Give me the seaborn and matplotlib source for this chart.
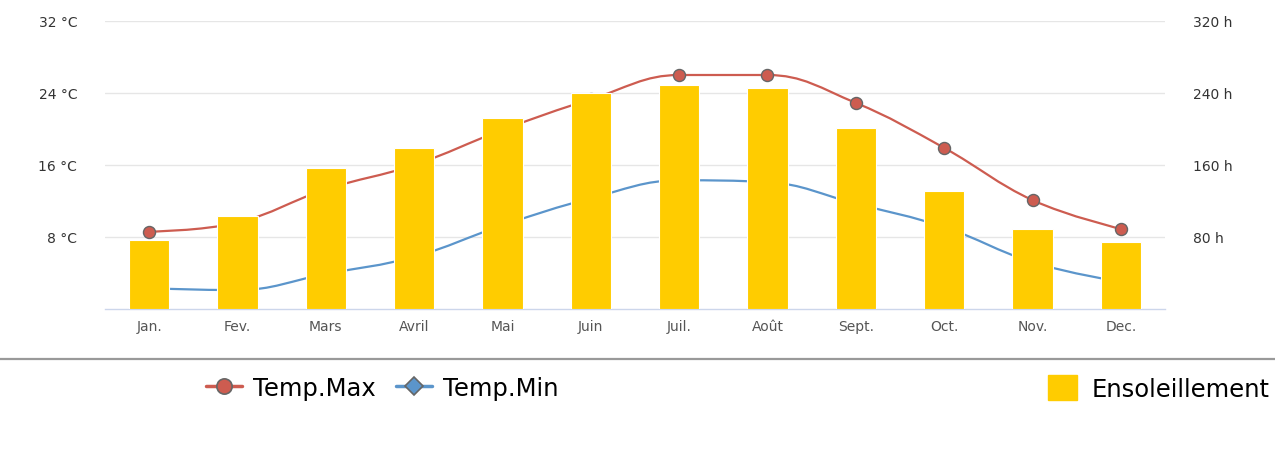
import numpy as np
import pandas as pd
import matplotlib
matplotlib.use("Agg")
import matplotlib.pyplot as plt
from matplotlib.path import Path
from matplotlib.patches import PathPatch, Patch
from matplotlib.lines import Line2D
import seaborn as sns

# Monthly climate values
months = ["Jan.", "Fev.", "Mars", "Avril", "Mai", "Juin",
          "Juil.", "Août", "Sept.", "Oct.", "Nov.", "Dec."]
temp_max = [8.6, 9.6, 13.3, 16.0, 19.9, 23.3, 26.0, 26.0, 22.9, 17.9, 12.1, 8.9]
temp_min = [2.3, 2.1, 3.9, 5.8, 9.3, 12.3, 14.3, 14.1, 11.7, 9.1, 5.2, 3.0]
sunshine = [77, 103, 157, 179, 212, 240, 249, 246, 201, 131, 89, 74]

temp_ticks = [8, 16, 24, 32]
hour_ticks = [80, 160, 240, 320]

RED = "#cd5c50"
BLUE = "#5b95cb"
YELLOW = "#ffcc00"
GRID = "#e6e6e6"
AXIS = "#ccd6eb"
LABEL = "#555555"


def spline_path(xs, ys, smoothing=1.5):
    """Cubic Bezier path through the points (Highcharts-style spline)."""
    n = len(xs)
    denom = smoothing + 1
    left = [None] * n
    right = [None] * n
    for i in range(1, n - 1):
        px, py = xs[i], ys[i]
        lx, ly = xs[i - 1], ys[i - 1]
        nx, ny = xs[i + 1], ys[i + 1]
        lcx = (smoothing * px + lx) / denom
        lcy = (smoothing * py + ly) / denom
        rcx = (smoothing * px + nx) / denom
        rcy = (smoothing * py + ny) / denom
        if rcx != lcx:
            corr = ((rcy - lcy) * (rcx - px)) / (rcx - lcx) + py - rcy
            lcy += corr
            rcy += corr
        if lcy > ly and lcy > py:
            lcy = max(ly, py)
            rcy = 2 * py - lcy
        elif lcy < ly and lcy < py:
            lcy = min(ly, py)
            rcy = 2 * py - lcy
        if rcy > ny and rcy > py:
            rcy = max(ny, py)
            lcy = 2 * py - rcy
        elif rcy < ny and rcy < py:
            rcy = min(ny, py)
            lcy = 2 * py - rcy
        left[i] = (lcx, lcy)
        right[i] = (rcx, rcy)
    verts = [(xs[0], ys[0])]
    codes = [Path.MOVETO]
    for i in range(1, n):
        c1 = right[i - 1] or (xs[i - 1], ys[i - 1])
        c2 = left[i] or (xs[i], ys[i])
        verts += [c1, c2, (xs[i], ys[i])]
        codes += [Path.CURVE4] * 3
    return Path(verts, codes)


sns.set_style("white")
plt.rcParams["font.family"] = ["DejaVu Sans"]

df = pd.DataFrame({"mois": months, "tmax": temp_max,
                   "tmin": temp_min, "soleil": sunshine})
xpos = np.arange(len(months))

fig = plt.figure(figsize=(12.75, 4.56), dpi=100)
ax = fig.add_axes([105 / 1275, 1 - 310 / 456, 1060 / 1275, 288 / 456])
ax2 = ax.twinx()

# Temperature curves (left axis, drawn beneath the bars)
ax.add_patch(PathPatch(spline_path(xpos, temp_min), fill=False,
                       edgecolor=BLUE, lw=1.6, zorder=2))
ax.add_patch(PathPatch(spline_path(xpos, temp_max), fill=False,
                       edgecolor=RED, lw=1.6, zorder=2))
sns.scatterplot(x=xpos, y=df["tmax"], ax=ax, color=RED, s=75,
                edgecolor="#666666", linewidth=1.0, zorder=3, legend=False)

# Sunshine bars (right axis)
sns.barplot(data=df, x="mois", y="soleil", ax=ax2, color=YELLOW,
            saturation=1, width=0.46, edgecolor="white", linewidth=0.8,
            order=months)

ax.set_xlim(-0.5, len(months) - 0.5)
ax.set_ylim(0, 32)
ax2.set_ylim(0, 320)
ax2.set_xlim(-0.5, len(months) - 0.5)

ax.set_yticks(temp_ticks)
ax.set_yticklabels([f"{t} °C" for t in temp_ticks])
ax2.set_yticks(hour_ticks)
ax2.set_yticklabels([f"{h} h" for h in hour_ticks])
ax.yaxis.grid(True, color=GRID, lw=1.0)
ax.set_axisbelow(True)

ax.set_xticks(xpos)
ax.set_xticklabels(months)
ax.set_xticks(np.arange(-0.5, len(months)), minor=True)
ax.tick_params(axis="x", which="major", length=0, pad=7,
               labelsize=10, labelcolor=LABEL)
ax.tick_params(axis="x", which="minor", length=7, width=1.0, color=AXIS)
ax.tick_params(axis="y", length=0, pad=20, labelsize=10, labelcolor="#333333")
ax2.tick_params(axis="y", length=0, pad=20, labelsize=10, labelcolor="#333333")
ax2.tick_params(axis="x", length=0, labelbottom=False)
ax2.set_xlabel("")
ax2.set_ylabel("")
ax.set_xlabel("")
ax.set_ylabel("")

for a in (ax, ax2):
    for side in ("top", "left", "right"):
        a.spines[side].set_visible(False)
    a.spines["bottom"].set_color(AXIS)
    a.spines["bottom"].set_linewidth(1.0)
ax2.spines["bottom"].set_visible(False)

# Separator between plot and legend
fig.add_artist(Line2D([0, 1], [1 - 360 / 456] * 2, transform=fig.transFigure,
                      color="#999999", lw=1.6))

legend_font = {"family": ["DejaVu Sans"], "size": 17.5}
h_max = Line2D([], [], color=RED, lw=2.5, marker="o", markersize=11,
               markerfacecolor=RED, markeredgecolor="#666666", markeredgewidth=1.2)
h_min = Line2D([], [], color=BLUE, lw=2.5, marker="D", markersize=9,
               markerfacecolor=BLUE, markeredgecolor="#666666", markeredgewidth=1.2)
leg1 = fig.legend([h_max, h_min], ["Temp.Max", "Temp.Min"], ncol=2,
                  loc="center left", bbox_to_anchor=(206 / 1275, 1 - 389 / 456),
                  frameon=False, prop=legend_font, handlelength=1.5,
                  handletextpad=0.45, columnspacing=0.8, borderaxespad=0,
                  borderpad=0, labelcolor="black")
h_sun = Patch(facecolor=YELLOW, edgecolor=YELLOW)
leg2 = fig.legend([h_sun], ["Ensoleillement"], loc="center right",
                  bbox_to_anchor=(1270 / 1275, 1 - 389 / 456), frameon=False,
                  prop=legend_font, handlelength=1.2, handleheight=1.2,
                  handletextpad=0.6, borderaxespad=0, borderpad=0,
                  labelcolor="black")

fig.savefig("out.png", dpi=100)
